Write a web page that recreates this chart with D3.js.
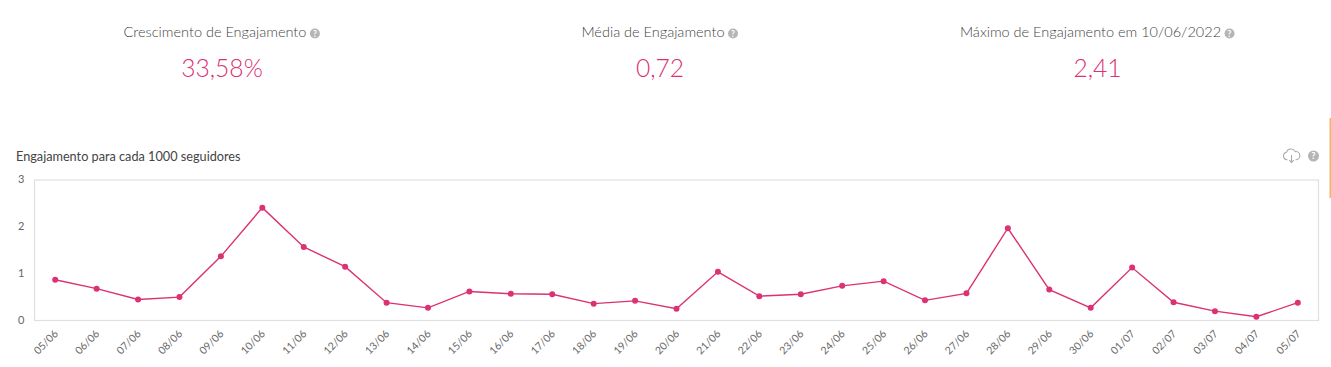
<!DOCTYPE html>
<html><head><meta charset="utf-8">
<script src="https://cdn.jsdelivr.net/npm/d3@7/dist/d3.min.js"></script>
<style>html,body{margin:0;padding:0;background:#fff;overflow:hidden}svg{display:block}text{font-family:Lato,sans-serif}</style>
</head><body><svg id="c" width="1331" height="367"></svg>
<script>
const categories=["05/06","06/06","07/06","08/06","09/06","10/06","11/06","12/06","13/06","14/06","15/06","16/06","17/06","18/06","19/06","20/06","21/06","22/06","23/06","24/06","25/06","26/06","27/06","28/06","29/06","30/06","01/07","02/07","03/07","04/07","05/07"];
const engagement=[0.87,0.68,0.45,0.50,1.37,2.41,1.57,1.15,0.38,0.27,0.62,0.57,0.56,0.36,0.42,0.25,1.04,0.52,0.56,0.74,0.84,0.43,0.58,1.97,0.66,0.27,1.13,0.39,0.20,0.08,0.38];
const yTicks=[0,1,2,3];
const kpiLabels=["Crescimento de Engajamento","Média de Engajamento","Máximo de Engajamento em 10/06/2022"];
const kpiValues=["33,58%","0,72","2,41"];
const kpiCenters=[222,660,1097.5];
const chartTitle="Engajamento para cada 1000 seguidores";
const pink="#dc3172";

const svg=d3.select("#c");
function help(g,cx,cy,r){
  g.append("circle").attr("cx",cx).attr("cy",cy).attr("r",r).attr("fill","#b5b5b5");
  g.append("text").attr("x",cx).attr("y",cy+r*0.62).attr("text-anchor","middle").attr("font-size",r*1.7).attr("font-weight",700).attr("fill","#fff").text("?");
}
kpiLabels.forEach((l,i)=>{
  const t=svg.append("text").attr("x",kpiCenters[i]-7).attr("y",37).attr("text-anchor","middle").attr("font-size",14.5).attr("font-weight",300).attr("fill","#444").style("-webkit-text-stroke","0.2px #444").text(l);
  const w=t.node().getComputedTextLength();
  help(svg,kpiCenters[i]-7+w/2+8.5,33.5,5);
  svg.append("text").attr("x",kpiCenters[i]).attr("y",77).attr("text-anchor","middle").attr("font-size",24.6).attr("font-weight",300).attr("fill",pink).style("-webkit-text-stroke","0.35px "+pink).text(kpiValues[i]);
});
svg.append("text").attr("x",16).attr("y",161).attr("font-size",12.7).attr("font-weight",400).attr("fill","#444").style("-webkit-text-stroke","0.3px #444").text(chartTitle);

svg.append("rect").attr("x",1329.5).attr("y",118).attr("width",1.5).attr("height",80).attr("fill","#f5b55f");
const ic=svg.append("g").attr("transform","translate(1291.5,155) scale(1.35)").attr("fill","none").attr("stroke","#aaa").attr("stroke-width",0.8);
ic.append("path").attr("d","M-3,3.5 H-3.5 A2.8,2.8 0 0 1 -3.8,-2 A3.6,3.6 0 0 1 2.8,-2.5 A3,3 0 0 1 3.5,3.5 H3");
ic.append("path").attr("d","M0,0 V5.5 M-1.7,3.8 L0,5.5 L1.7,3.8");
help(svg,1313.5,156,5.5);

const plotLeft=34.5,plotRight=1318.5,plotTop=180,plotBottom=320.5;
const x=d3.scalePoint().domain(categories).range([plotLeft,plotRight]).padding(0.5);
const y=d3.scaleLinear().domain([0,3]).range([plotBottom,plotTop]);

svg.append("rect").attr("x",plotLeft).attr("y",plotTop).attr("width",plotRight-plotLeft).attr("height",plotBottom-plotTop).attr("fill","none").attr("stroke","#e0e0e0").attr("stroke-width",1.2);

const ya=svg.append("g").attr("transform",`translate(${plotLeft},-1)`).call(d3.axisLeft(y).tickValues(yTicks).tickFormat(d3.format("d")).tickSize(0).tickPadding(10));
ya.select(".domain").remove();
ya.selectAll("text").attr("font-size",11).attr("font-weight",400).attr("fill","#666").style("font-family","Lato,sans-serif").style("-webkit-text-stroke","0.25px #666");

const xa=svg.append("g").attr("transform",`translate(0,${plotBottom})`).style("opacity",0.99).call(d3.axisBottom(x).tickSize(0));
xa.select(".domain").remove();
xa.selectAll("text").attr("font-size",10.5).attr("font-weight",400).attr("fill","#666").style("font-family","Lato,sans-serif").style("-webkit-text-stroke","0.25px #666")
  .attr("text-anchor","end").attr("dx",0).attr("dy",0).attr("y",0).attr("x",0)
  .attr("transform","translate(3,14) rotate(-45)");

svg.append("path").datum(engagement).attr("fill","none").attr("stroke",pink).attr("stroke-width",1.4)
  .attr("d",d3.line().x((d,i)=>x(categories[i])).y(d=>y(d)));
svg.selectAll(".pt").data(engagement).join("circle").attr("class","pt")
  .attr("cx",(d,i)=>x(categories[i])).attr("cy",d=>y(d)).attr("r",3).attr("fill",pink);
</script></body></html>
